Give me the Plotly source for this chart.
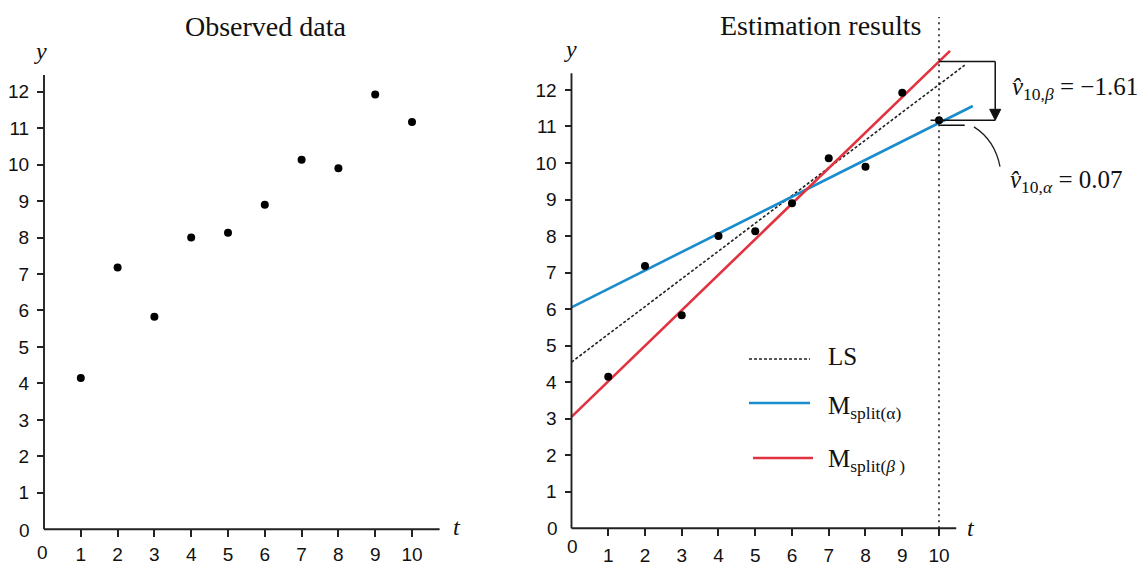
import plotly.graph_objects as go

W, H = 1141, 564

# ---------------- data ----------------
t_obs = [1, 2, 3, 4, 5, 6, 7, 8, 9, 10]
y_obs = [4.15, 7.18, 5.83, 8.00, 8.13, 8.90, 10.13, 9.90, 11.92, 11.17]

ls_t = [0, 10.7]          # least-squares line (dashed)
ls_y = [4.55, 12.68]
alpha_t = [0, 10.92]      # M_split(alpha)
alpha_y = [6.05, 11.56]
beta_t = [0, 10.3]        # M_split(beta)
beta_y = [3.05, 13.07]

x_ticks = [1, 2, 3, 4, 5, 6, 7, 8, 9, 10]
y_ticks = [1, 2, 3, 4, 5, 6, 7, 8, 9, 10, 11, 12]

t_pred = 10
fit_beta_10 = 12.78
fit_alpha_10 = 11.03
v10_beta = "−1.61"
v10_alpha = "0.07"

# ---------------- styling ----------------
SERIF = "Liberation Serif, Times New Roman, serif"
SANS = "Liberation Sans, Arial, sans-serif"
AX = "#222222"
BLUE = "#1b8ccb"
RED = "#e2323f"


def fx(p):
    return p / W


def fy(p):
    return (H - p) / H


fig = go.Figure()

# panel geometry (pixel origin and pixel-per-unit)
L = dict(x0=44.0, sx=36.8, y0=529.3, sy=36.47, xr=[-0.3, 10.8])
R = dict(x0=571.5, sx=36.75, y0=528.3, sy=36.53, xr=[-0.3, 11.95])
YR = [-0.4, 14.2]


def axes(P, xstand):
    xa = dict(
        domain=[fx(P["x0"] + P["xr"][0] * P["sx"]), fx(P["x0"] + P["xr"][1] * P["sx"])],
        range=P["xr"], anchor="free", position=fy(P["y0"]), automargin=False,
        tickmode="array", tickvals=x_ticks, ticks="outside", ticklen=7,
        tickwidth=1.6, tickcolor=AX, showline=False, showgrid=False,
        zeroline=False, tickfont=dict(family=SANS, size=19, color="#111"),
        ticklabelstandoff=xstand,
    )
    ya = dict(
        domain=[fy(P["y0"] - YR[0] * P["sy"]), fy(P["y0"] - YR[1] * P["sy"])],
        range=YR, anchor="free", position=fx(P["x0"]), automargin=False,
        tickmode="array", tickvals=y_ticks, ticks="outside", ticklen=7,
        tickwidth=1.6, tickcolor=AX, showline=False, showgrid=False,
        zeroline=False, tickfont=dict(family=SANS, size=19, color="#111"),
        ticklabelstandoff=4,
    )
    return xa, ya


xa1, ya1 = axes(L, 1)
xa2, ya2 = axes(R, 3)

# ---------------- traces ----------------
fig.add_trace(go.Scatter(x=t_obs, y=y_obs, mode="markers", xaxis="x", yaxis="y",
                         marker=dict(color="black", size=8), showlegend=False))

fig.add_trace(go.Scatter(x=ls_t, y=ls_y, mode="lines", xaxis="x2", yaxis="y2",
                         line=dict(color="#222", width=1.6, dash="3px,2px"), showlegend=False))
fig.add_trace(go.Scatter(x=alpha_t, y=alpha_y, mode="lines", xaxis="x2", yaxis="y2",
                         line=dict(color=BLUE, width=2.6), showlegend=False))
fig.add_trace(go.Scatter(x=beta_t, y=beta_y, mode="lines", xaxis="x2", yaxis="y2",
                         line=dict(color=RED, width=2.6), showlegend=False))
fig.add_trace(go.Scatter(x=t_obs, y=y_obs, mode="markers", xaxis="x2", yaxis="y2",
                         marker=dict(color="black", size=8), showlegend=False))

shapes = []
# axis lines (drawn as shapes so they stop where the reference stops)
for xr_, yr_, xend in (("x", "y", 10.75), ("x2", "y2", 10.47)):
    shapes.append(dict(type="line", xref=xr_, yref=yr_, x0=0, x1=xend, y0=0, y1=0,
                       line=dict(color=AX, width=1.9)))
    shapes.append(dict(type="line", xref=xr_, yref=yr_, x0=0, x1=0, y0=0, y1=12.46,
                       line=dict(color=AX, width=1.9)))

# dotted vertical line at t = 10
shapes.append(dict(type="line", xref="x2", yref="y2", x0=t_pred, x1=t_pred, y0=0, y1=14.0,
                   line=dict(color=AX, width=1.6, dash="2px,4px")))

# residual bracket
xb = 11.53
shapes += [
    dict(type="line", xref="x2", yref="y2", x0=t_pred, x1=xb, y0=fit_beta_10, y1=fit_beta_10,
         line=dict(color="#111", width=1.5)),
    dict(type="line", xref="x2", yref="y2", x0=xb, x1=xb, y0=fit_beta_10, y1=y_obs[-1] + 0.30,
         line=dict(color="#111", width=1.5)),
    dict(type="path", xref="x2", yref="y2",
         path=f"M {xb-0.15},{y_obs[-1]+0.30} L {xb+0.15},{y_obs[-1]+0.30} L {xb},{y_obs[-1]} Z",
         fillcolor="#111", line=dict(color="#111", width=1)),
    dict(type="line", xref="x2", yref="y2", x0=9.77, x1=xb, y0=y_obs[-1], y1=y_obs[-1],
         line=dict(color="#111", width=1.5)),
    dict(type="line", xref="x2", yref="y2", x0=t_pred, x1=10.7, y0=fit_alpha_10, y1=fit_alpha_10,
         line=dict(color="#111", width=1.5)),
    dict(type="path", xref="x2", yref="y2", path="M 10.95,10.99 Q 11.52,10.63 11.66,9.90",
         line=dict(color="#222", width=1.3)),
]

# custom legend samples
shapes += [
    dict(type="line", xref="paper", yref="paper", x0=fx(749), x1=fx(810), y0=fy(359), y1=fy(359),
         line=dict(color="#222", width=1.6, dash="3px,2px")),
    dict(type="line", xref="paper", yref="paper", x0=fx(749), x1=fx(810), y0=fy(403), y1=fy(403),
         line=dict(color=BLUE, width=2.6)),
    dict(type="line", xref="paper", yref="paper", x0=fx(753), x1=fx(813), y0=fy(458), y1=fy(458),
         line=dict(color=RED, width=2.6)),
]


def txt(text, x, y, size, xanchor="center", yanchor="middle", family=SERIF):
    return dict(text=text, x=fx(x), y=fy(y), xref="paper", yref="paper",
                xanchor=xanchor, yanchor=yanchor, showarrow=False,
                font=dict(family=family, size=size, color="#111"))


annotations = [
    txt("Observed data", 266, 26, 28),
    txt("Estimation results", 820, 25, 28),
    txt("<i>y</i>", 40, 51, 24),
    txt("<i>y</i>", 570, 49, 24),
    txt("<i>t</i>", 457, 527, 24),
    txt("<i>t</i>", 971, 528, 24),
    txt("0", 24, 530, 19, family=SANS),
    txt("0", 43, 552, 19, family=SANS),
    txt("0", 552, 528, 19, family=SANS),
    txt("0", 572, 546, 19, family=SANS),
    txt("LS", 826, 356, 25, xanchor="left"),
    txt("M<sub>split(α)</sub>", 826, 407, 25, xanchor="left"),
    txt("M<sub>split(<i>β</i> )</sub>", 826, 461, 25, xanchor="left"),
    txt("<i>v̂</i><sub>10,<i>β</i></sub> = " + v10_beta, 1010, 89, 25, xanchor="left"),
    txt("<i>v̂</i><sub>10,<i>α</i></sub> = " + v10_alpha, 1008, 182, 25, xanchor="left"),
]

fig.update_layout(
    width=W, height=H, margin=dict(l=0, r=0, t=0, b=0, autoexpand=False),
    paper_bgcolor="white", plot_bgcolor="white",
    xaxis=xa1, yaxis=ya1, xaxis2=xa2, yaxis2=ya2,
    shapes=shapes, annotations=annotations, showlegend=False,
)

fig.write_html("out.html", config=dict(displayModeBar=False),
               post_script="document.body.style.margin='0';document.body.style.overflow='hidden';")
